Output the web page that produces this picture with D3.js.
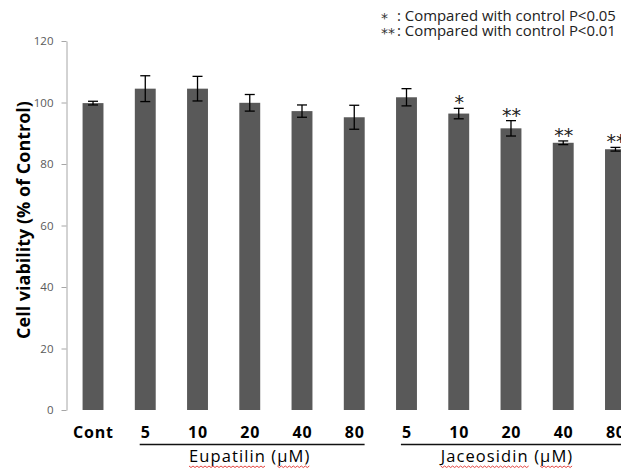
<!DOCTYPE html>
<html>
<head>
<meta charset="utf-8">
<script src="https://cdn.jsdelivr.net/npm/d3@7"></script>
<style>
  html, body { margin: 0; padding: 0; background: #fff; }
  svg { display: block; }
</style>
</head>
<body>
<svg id="chart" width="621" height="470"></svg>
<script>
// Cell viability after treatment, mean ± error, per dose
const categories = ["Cont", "5", "10", "20", "40", "80", "5", "10", "20", "40", "80"];
const viability = [99.8, 104.5, 104.5, 99.9, 97.2, 95.2, 101.7, 96.4, 91.6, 86.9, 84.8];
const errors    = [0.6, 4.2, 4.0, 2.7, 2.0, 3.9, 2.8, 1.7, 2.5, 0.6, 0.6];
const significance = ["", "", "", "", "", "", "", "*", "**", "**", "**"];
const yTicks = [0, 20, 40, 60, 80, 100, 120];
const groupNames = ["Eupatilin", "Jaceosidin"];
const groupUnit = "(μM)";
const groupFirst = [1, 6];
const groupLast = [5, 10];
const legendMarks = ["*", "**"];
const legendTexts = ["Compared with control P<0.05", "Compared with control P<0.01"];
const yTitle = "Cell viability (% of Control)";

const svg = d3.select("#chart");
const FONT = "'Open Sans', 'DejaVu Sans', sans-serif";

// scale a text's font so that it spans the given width
function fitWidth(sel, base, width) {
  sel.style("font-size", base + "px");
  const w = sel.node().getComputedTextLength();
  sel.style("font-size", (base * width / w).toFixed(2) + "px");
}

const y = d3.scaleLinear().domain([0, 120]).range([410, 41]);
const x = d3.scaleBand()
  .domain(d3.range(categories.length))
  .range([66.9, 641.6])
  .paddingInner(0.6)
  .paddingOuter(0.3);
const cx = i => x(i) + x.bandwidth() / 2;

// y axis
const yAxis = svg.append("g")
  .attr("transform", "translate(66.5,0)")
  .call(d3.axisLeft(y).tickValues(yTicks).tickSize(5).tickSizeOuter(0).tickPadding(8));
yAxis.select(".domain").attr("stroke", "#a6a6a6").attr("stroke-width", 1);
yAxis.selectAll(".tick line").attr("stroke", "#a6a6a6");
yAxis.selectAll(".tick text")
  .attr("fill", "#595959")
  .style("font-family", FONT)
  .style("font-size", "11.5px");

// y axis title
svg.append("text")
  .attr("transform", `translate(30,220) rotate(-90)`)
  .attr("text-anchor", "middle")
  .style("font-family", FONT)
  .style("font-weight", "bold")
  .style("font-size", "18px")
  .attr("fill", "#000")
  .text(yTitle);

// bars
svg.append("g").selectAll("rect")
  .data(viability)
  .join("rect")
  .attr("x", (d, i) => x(i))
  .attr("width", x.bandwidth())
  .attr("y", d => y(d))
  .attr("height", d => y(0) - y(d))
  .attr("fill", "#595959");

// error bars
const eb = svg.append("g").attr("stroke", "#000").attr("stroke-width", 1.3);
viability.forEach((v, i) => {
  const top = y(v + errors[i]), bot = y(v - errors[i]);
  eb.append("line").attr("x1", cx(i)).attr("x2", cx(i)).attr("y1", top).attr("y2", bot);
  eb.append("line").attr("x1", cx(i) - 5).attr("x2", cx(i) + 5).attr("y1", top).attr("y2", top);
  eb.append("line").attr("x1", cx(i) - 5).attr("x2", cx(i) + 5).attr("y1", bot).attr("y2", bot);
});

// significance marks above error bars
significance.forEach((s, i) => {
  if (!s) return;
  const t = svg.append("text")
    .attr("x", cx(i) + 0.5)
    .attr("y", 0)
    .attr("text-anchor", "middle")
    .style("font-family", "'DejaVu Sans', sans-serif")
    .style("font-size", "19px")
    .attr("fill", "#222")
    .text(s);
  const b = t.node().getBBox();
  const target = y(viability[i] + errors[i]) - 10.5;
  t.attr("y", target - (b.y + b.height * 0.3));
});

// category labels
const catLabels = svg.append("g").selectAll("text")
  .data(categories)
  .join("text")
  .attr("x", (d, i) => cx(i) + 0.4)
  .attr("y", 438)
  .attr("text-anchor", "middle")
  .style("font-family", FONT)
  .style("font-weight", "bold")
  .style("font-size", "16px")
  .style("letter-spacing", "0.8px")
  .attr("fill", "#000")
  .text(d => d);

// treatment group brackets and names
groupNames.forEach((name, g) => {
  const a = catLabels.nodes()[groupFirst[g]].getBBox();
  const b = catLabels.nodes()[groupLast[g]].getBBox();
  const x1 = a.x - 1, x2 = b.x + b.width;
  svg.append("line")
    .attr("x1", x1).attr("x2", x2)
    .attr("y1", 444.5).attr("y2", 444.5)
    .attr("stroke", "#111").attr("stroke-width", 1.6);
  const mid = (cx(groupFirst[g]) + cx(groupLast[g])) / 2 - (g === 1 ? 4 : 0);
  const t = svg.append("text")
    .attr("x", mid)
    .attr("y", 462)
    .attr("text-anchor", "middle")
    .style("font-family", FONT)
    .style("font-size", "16.5px")
    .style("letter-spacing", "1.1px")
    .attr("fill", "#000")
    .text(name + " " + groupUnit);
  // proofing squiggles under the name and the unit
  const node = t.node();
  const wave = (s, e) => {
    const p = d3.path();
    const yy = 466;
    p.moveTo(s, yy);
    let k = 0;
    for (let xx = s + 2; xx <= e; xx += 2) { p.lineTo(xx, yy + (k++ % 2 ? 0 : 1.5)); }
    svg.append("path").attr("d", p.toString()).attr("fill", "none")
      .attr("stroke", "#e0302a").attr("stroke-width", 0.9);
  };
  const n = name.length;
  wave(node.getStartPositionOfChar(0).x, node.getEndPositionOfChar(n - 1).x);
  const full = name + " " + groupUnit;
  wave(node.getStartPositionOfChar(n + 2).x, node.getEndPositionOfChar(full.length - 1).x);
});

// significance legend
legendTexts.forEach((txt, r) => {
  const yy = 21 + r * 15;
  svg.append("text")
    .attr("x", 381).attr("y", yy + 2)
    .style("font-family", "'DejaVu Sans', sans-serif")
    .style("font-size", "14px")
    .attr("fill", "#333")
    .text(legendMarks[r]);
  const t = svg.append("text")
    .attr("x", 397).attr("y", yy)
    .style("font-family", FONT)
    .attr("fill", "#222")
    .text(": " + txt);
  fitWidth(t, 14, 219);
});
</script>
</body>
</html>
